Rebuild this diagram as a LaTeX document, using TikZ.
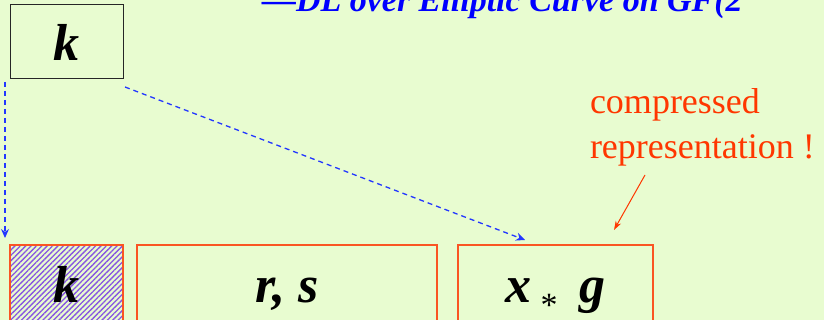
\documentclass[tikz,border=0pt]{standalone}
\usepackage{fontspec}
\setmainfont{Liberation Serif}
\usetikzlibrary{positioning,arrows.meta,patterns.meta,calc}
\definecolor{bgreen}{RGB}{232,252,208}
\definecolor{cellred}{RGB}{250,85,35}
\definecolor{notered}{RGB}{255,55,0}
\definecolor{arrblue}{RGB}{35,55,255}
\definecolor{hatchviolet}{RGB}{135,85,225}

\begin{document}
\begin{tikzpicture}[
  x=1pt, y=-1pt,
  every node/.style={outer sep=0pt, inner sep=0pt},
  bigvar/.style={font=\fontsize{52}{52}\selectfont\bfseries\itshape},
  keybox/.style={rectangle, draw=black!85, line width=1pt, fill=bgreen,
                 minimum width=113pt, minimum height=74pt, bigvar},
  cell/.style={rectangle, draw=cellred, line width=1.2pt,
               minimum height=90pt, text height=36pt, text depth=12pt, bigvar},
  hatched/.style={pattern={Lines[angle=45,distance=3.8pt,line width=1.3pt]},
                  pattern color=hatchviolet},
  headline/.style={font=\fontsize{34}{34}\selectfont\bfseries\itshape, text=blue},
  notetext/.style={font=\fontsize{36}{45}\selectfont, text=notered, align=left},
  keyarrow/.style={-{Stealth[length=9pt,width=8pt]}, arrblue,
                   dash pattern=on 5pt off 4pt, line width=1.3pt},
  notearrow/.style={-{Stealth[length=9pt,width=6pt]}, notered, line width=1pt}
]
\useasboundingbox (0,0) rectangle (824,320);
\fill[bgreen] (0,0) rectangle (824,320);
\clip (0,0) rectangle (824,320);

\node[headline, anchor=base west] (title) at (262,12) {---DL over Elliptic Curve on GF(2};

\node[keybox]                                   (keytop) at (66.5,42) {k};
\node[cell, hatched, minimum width=113pt, anchor=north west] (keycell) at (10,245) {k};
\node[cell, minimum width=300pt, right=14pt of keycell] (rscell) {r, s};
\node[cell, minimum width=195pt, right=21pt of rscell]  (xgcell)
  {x\,\raisebox{-0.28em}{\fontsize{34}{34}\normalfont *}\, g};

\node[notetext, anchor=base west] (note) at (590,159) {compressed\\representation !};

\draw[keyarrow] ($(keytop.south west)+(-5,3)$) -- ($(keycell.north west)+(-5,-7)$);
\draw[keyarrow] ($(keytop.south east)+(2,8)$)  -- ($(xgcell.north west)+(67,-5)$);

\coordinate (notetip) at (645,175);
\draw[notearrow] (notetip) -- ($(xgcell.north east)+(-39,-15)$);

\end{tikzpicture}
\end{document}
